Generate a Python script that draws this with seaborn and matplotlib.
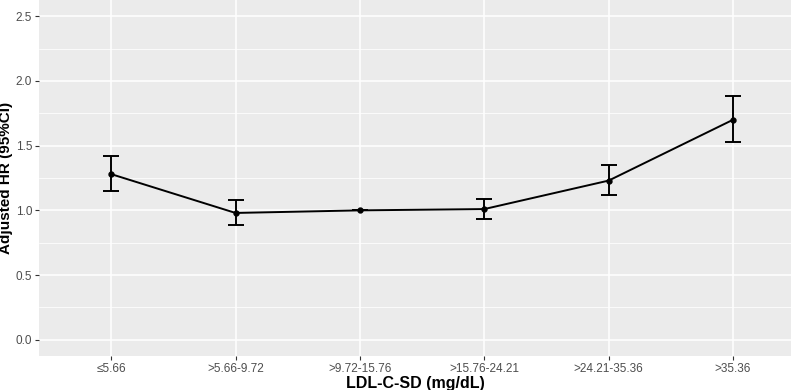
import matplotlib
matplotlib.use('Agg')
import matplotlib.pyplot as plt
import seaborn as sns
import numpy as np
import pandas as pd

# values
groups = ['≤5.66', '>5.66-9.72', '>9.72-15.76', '>15.76-24.21', '>24.21-35.36', '>35.36']
hr = [1.28, 0.98, 1.00, 1.01, 1.23, 1.70]
ci_low = [1.15, 0.89, 1.00, 0.93, 1.12, 1.53]
ci_high = [1.42, 1.08, 1.00, 1.09, 1.35, 1.88]

df = pd.DataFrame({'group': groups, 'hr': hr, 'lo': ci_low, 'hi': ci_high})

sns.set_theme(style='darkgrid', rc={
    'axes.facecolor': '#EBEBEB',
    'grid.color': 'white',
    'axes.edgecolor': '#EBEBEB',
})
plt.rcParams['font.family'] = ['Liberation Sans', 'DejaVu Sans']

fig = plt.figure(figsize=(7.91, 3.90), dpi=100)
ax = fig.add_axes([39 / 791, 34 / 390, 752 / 791, 356 / 390])

# error bars first, then line + points
ax.errorbar(np.arange(len(df)), df.hr,
            yerr=[df.hr - df.lo, df.hi - df.hr],
            fmt='none', ecolor='black', elinewidth=1.4, capsize=5.5, capthick=1.4, zorder=3)
sns.pointplot(data=df, x='group', y='hr', color='black', ax=ax,
              markersize=3.5, linewidth=1.4, errorbar=None, zorder=4)

ax.set_xlim(-0.58, 5.466)
ax.set_ylim(-0.125, 2.625)
ax.set_yticks([0.0, 0.5, 1.0, 1.5, 2.0, 2.5])
ax.set_yticklabels(['0.0', '0.5', '1.0', '1.5', '2.0', '2.5'])
ax.set_yticks(np.arange(0.25, 2.5, 0.5), minor=True)
ax.grid(True, which='major', color='white', linewidth=1.1)
ax.grid(True, which='minor', axis='y', color='white', linewidth=0.55)
ax.tick_params(axis='both', which='major', length=3, width=0.8, color='#333333',
               labelcolor='#4D4D4D', labelsize=8.5, pad=2, bottom=True, left=True)
ax.tick_params(axis='both', which='minor', length=0)
for s in ax.spines.values():
    s.set_visible(False)

ax.set_xlabel('LDL-C-SD (mg/dL)', fontsize=11.5, fontweight='bold', color='black', labelpad=1)
ax.set_ylabel('Adjusted HR (95%CI)', fontsize=11, fontweight='bold', color='black', labelpad=2)

fig.savefig('out.png', dpi=100)
